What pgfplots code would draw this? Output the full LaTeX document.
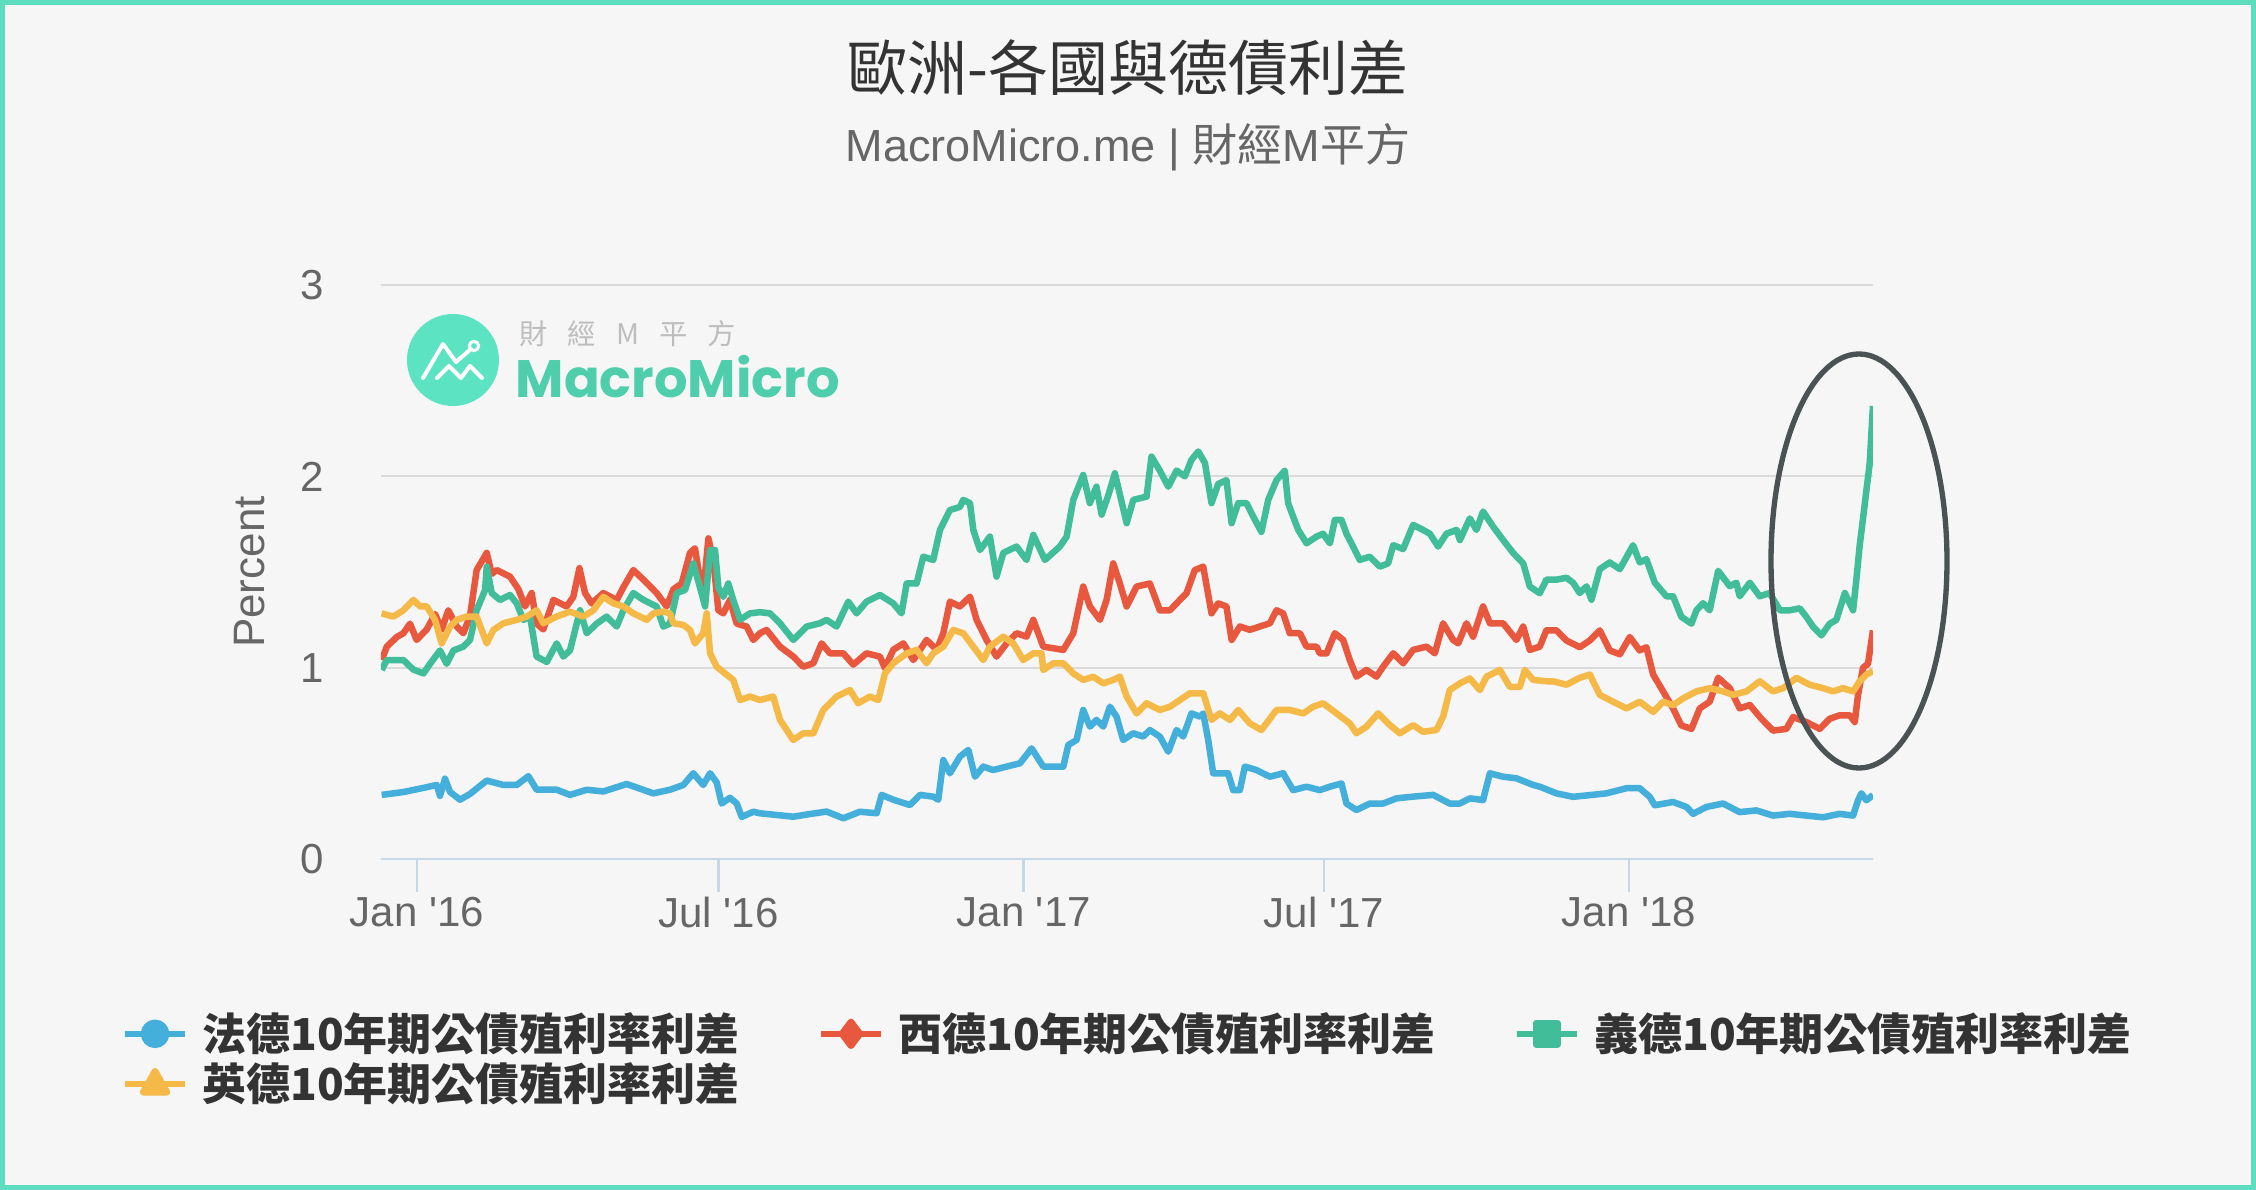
\documentclass[border=0pt]{standalone}
\usepackage{fontspec}
\setmainfont{Liberation Sans}
\newfontfamily\cjk{Noto Sans CJK TC}
\newfontfamily\pop{Poppins}
\usepackage{pgfplots}
\pgfplotsset{compat=1.18}
\pgfdeclarelayer{background}
\pgfsetlayers{background,main}
\definecolor{bg}{HTML}{F6F6F6}
\definecolor{frame}{HTML}{5EDDBE}
\definecolor{cB}{HTML}{43AFDA}
\definecolor{cR}{HTML}{E8583E}
\definecolor{cG}{HTML}{42BD99}
\definecolor{cY}{HTML}{F5B947}
\definecolor{gridc}{HTML}{DADADA}
\definecolor{axc}{HTML}{C8D7E6}
\definecolor{txt}{HTML}{333333}
\definecolor{txt2}{HTML}{666666}
\definecolor{logoc}{HTML}{5BE3C2}
\definecolor{logot}{HTML}{4ECEAB}
\definecolor{logog}{HTML}{BDBDBD}
\definecolor{ell}{HTML}{4A5254}
\begin{document}
\begin{tikzpicture}[x=0.3pt,y=0.3pt]
\begin{axis}[
  scale only axis, width=447.6pt, height=172.2pt,
  xmin=-21.7, xmax=878.3, ymin=0, ymax=3,
  axis x line*=bottom, axis y line*=left,
  x axis line style={draw=axc, line width=0.75pt, -},
  y axis line style={draw=none},
  xtick={0,182,366,547,731},
  xticklabels={Jan \textquotesingle 16, Jul \textquotesingle 16, Jan \textquotesingle 17, Jul \textquotesingle 17, Jan \textquotesingle 18},
  ytick={0,1,2,3},
  ymajorgrids, grid style={draw=gridc, line width=0.6pt},
  xtick style={draw=axc, line width=0.75pt},
  ytick style={draw=none},
  xtick align=outside, ytick align=inside,
  major tick length=10pt,
  tick label style={font=\fontsize{12.6}{15}\selectfont, text=txt2},
  /pgf/number format/assume math mode=true,
  yticklabel style={inner sep=0pt, xshift=-17pt},
  xticklabel style={inner sep=0pt, yshift=-1.3pt},
  ylabel={Percent},
  ylabel style={at={(axis description cs:-0.0878,0.5)}, anchor=center, font=\fontsize{13.2}{16}\selectfont, text=txt2},
  legend columns=3,
  legend cell align=left,
  legend style={at={(axis description cs:-0.174,-0.2545)}, anchor=north west,
    draw=none, fill=none, inner sep=0pt, row sep=-1.9pt,
    font=\cjk\bfseries\fontsize{13.2}{15}\selectfont, text=txt,
    /tikz/every even column/.append style={column sep=21.4pt},
    /tikz/every odd column/.append style={column sep=2.3pt}},
  every axis plot/.append style={line width=1.95pt, line join=round},
]
\coordinate (AXO) at (rel axis cs:0,0);
\addplot[cB, legend image code/.code={\draw[cB, line width=1.8pt] (0pt,0pt) -- (18pt,0pt); \fill[cB] (9pt,0pt) circle (3.3pt);}] coordinates {
(-21.3,0.335) (-8.2,0.35) (3,0.37) (11.9,0.387) (13.9,0.33) (16.9,0.42) (20,0.35) (26,0.31) (32,0.34) (42.1,0.41) (52.1,0.387) (60.2,0.387) (67.2,0.433) (72.2,0.362) (84.3,0.362) (92.3,0.335) (102.4,0.362) (112.4,0.353) (126.5,0.392) (142.6,0.343) (152.6,0.362) (160.7,0.387) (166.7,0.448) (172.7,0.387) (176.8,0.448) (180.8,0.40) (183.8,0.29) (188.8,0.32) (192.9,0.29) (195.9,0.22) (202.9,0.247) (206.9,0.239) (217,0.23) (227,0.221) (237,0.235) (247.1,0.248) (257.2,0.213) (267.2,0.247) (277.3,0.239) (280.3,0.335) (287.3,0.31) (297.4,0.282) (303.4,0.335) (311.4,0.326) (314.5,0.31) (317.5,0.517) (321.5,0.448) (327.5,0.535) (332.6,0.57) (336.6,0.43) (341.6,0.483) (347.6,0.465) (355.7,0.483) (363.7,0.50) (370.8,0.578) (377.8,0.483) (389.9,0.483) (392.9,0.596) (397.9,0.622) (401.9,0.779) (405.9,0.692) (409.9,0.727) (414,0.692) (418,0.796) (422,0.744) (426,0.622) (432.1,0.657) (438.1,0.64) (442.1,0.674) (448.1,0.64) (453.2,0.561) (458.2,0.674) (462.2,0.64) (467.2,0.761) (472.3,0.744) (474.3,0.761) (477.3,0.622) (480.3,0.448) (489.3,0.448) (492.4,0.36) (496.4,0.36) (499.4,0.483) (506.4,0.465) (514.5,0.43) (522.5,0.448) (528.5,0.36) (536.6,0.378) (544.6,0.36) (550.7,0.378) (557.7,0.395) (560.7,0.29) (566.7,0.256) (574.8,0.29) (582.8,0.29) (590.9,0.317) (600.9,0.326) (613,0.335) (623,0.29) (629.1,0.29) (635.1,0.317) (643.1,0.308) (647.2,0.448) (655.2,0.43) (663.2,0.422) (673.3,0.387) (677.3,0.378) (687.4,0.343) (697.4,0.325) (707.5,0.334) (717.5,0.343) (729.6,0.37) (737.6,0.37) (743.6,0.325) (746.7,0.281) (757.7,0.298) (765.8,0.272) (769.8,0.236) (777.8,0.272) (787.9,0.29) (797.9,0.245) (808,0.254) (818,0.227) (828.1,0.236) (838.1,0.227) (848.2,0.218) (858.2,0.236) (866.3,0.227) (869.3,0.307) (871.3,0.343) (874.3,0.307) (878.3,0.334)
};
\addlegendentry{法德10年期公債殖利率利差}
\addplot[cR, legend image code/.code={\draw[cR, line width=1.8pt] (0pt,0pt) -- (18pt,0pt); \fill[cR] (9pt,3.6pt) -- (11.7pt,0pt) -- (9pt,-3.6pt) -- (6.3pt,0pt) -- cycle;}] coordinates {
(-21.3,1.04) (-18.2,1.11) (-12.2,1.16) (-8.2,1.18) (-4.2,1.23) (-0.2,1.145) (5.9,1.20) (10.9,1.28) (14.9,1.20) (18.9,1.30) (24,1.215) (28,1.18) (32,1.27) (36,1.51) (42.1,1.60) (45.1,1.49) (48.1,1.51) (56.1,1.476) (61.2,1.41) (65.2,1.32) (69.2,1.39) (72.2,1.23) (76.2,1.20) (82.3,1.354) (90.3,1.32) (94.3,1.37) (98,1.52) (101.4,1.39) (105.4,1.336) (112.4,1.39) (120.5,1.354) (124.5,1.42) (130.5,1.51) (136.6,1.46) (144.6,1.39) (150.6,1.32) (154.7,1.41) (159.7,1.44) (164.7,1.60) (167.7,1.624) (170.7,1.46) (172.7,1.39) (175.8,1.676) (178.8,1.56) (181.8,1.30) (184.8,1.284) (188.8,1.354) (192.9,1.23) (198.9,1.215) (202.9,1.145) (206.9,1.18) (210.9,1.197) (219,1.11) (227,1.058) (233,1.005) (239.1,1.023) (244.1,1.127) (249.1,1.075) (257.2,1.075) (263.2,1.016) (271.2,1.075) (279.3,1.058) (282.3,0.997) (287.3,1.093) (293.4,1.127) (299.4,1.04) (307.4,1.145) (313.5,1.093) (317.5,1.18) (321.5,1.345) (327.5,1.32) (333.6,1.371) (337.6,1.25) (343.6,1.145) (349.6,1.058) (355.7,1.127) (361.7,1.18) (367.7,1.162) (371.8,1.25) (377.8,1.11) (389.9,1.093) (395.9,1.18) (401.9,1.424) (405.9,1.32) (412,1.25) (416,1.354) (420,1.545) (424,1.44) (428.1,1.32) (434.1,1.424) (442.1,1.44) (448.1,1.30) (454.2,1.30) (460.2,1.354) (464.2,1.389) (469.2,1.51) (474.3,1.528) (479.3,1.284) (483.3,1.336) (488.3,1.32) (491.4,1.145) (496.4,1.215) (502.4,1.198) (508.4,1.215) (514.5,1.232) (518.5,1.30) (522.5,1.284) (526.5,1.18) (532.6,1.18) (536.6,1.11) (542.6,1.11) (544.6,1.075) (548.7,1.075) (553.7,1.18) (558.7,1.145) (562.7,1.04) (566.7,0.953) (572.8,0.988) (578.8,0.953) (582.8,1.005) (588.9,1.075) (594.9,1.023) (600.9,1.093) (609,1.11) (614,1.075) (619,1.232) (625,1.145) (628.1,1.127) (633.1,1.232) (637.1,1.162) (643.1,1.32) (647.2,1.232) (655.2,1.232) (663.2,1.145) (667.3,1.215) (671.3,1.093) (677.3,1.11) (681.3,1.195) (687.4,1.195) (693.4,1.142) (701.4,1.107) (707.5,1.142) (713.5,1.195) (719.5,1.09) (725.6,1.07) (731.6,1.16) (737.6,1.09) (741.6,1.107) (745.7,0.964) (751.7,0.876) (757.7,0.787) (762.7,0.698) (768.8,0.68) (773.8,0.787) (779.8,0.822) (784.9,0.947) (791.9,0.893) (797.9,0.787) (804,0.805) (811,0.733) (818,0.671) (826.1,0.68) (830.1,0.742) (838.1,0.716) (846.2,0.68) (852.2,0.733) (858.2,0.751) (864.3,0.751) (867.3,0.716) (869.3,0.858) (872.3,1.0) (875.3,1.02) (878.3,1.195)
};
\addlegendentry{西德10年期公債殖利率利差}
\addplot[cG, legend image code/.code={\draw[cG, line width=1.8pt] (0pt,0pt) -- (18pt,0pt); \fill[cG] (5.8pt,-3.2pt) rectangle (12.2pt,3.2pt);}] coordinates {
(-21.3,0.988) (-18.2,1.04) (-8.2,1.04) (-2.2,0.99) (3.9,0.97) (7.9,1.02) (13.9,1.09) (17.9,1.02) (22,1.09) (28,1.11) (32,1.145) (36,1.30) (41.1,1.406) (42.1,1.528) (45.1,1.39) (50.1,1.354) (56.1,1.38) (60.2,1.336) (64.2,1.25) (68.2,1.267) (72.2,1.058) (78.3,1.03) (84.3,1.127) (88.3,1.058) (92.3,1.09) (98.4,1.30) (102.4,1.18) (108.4,1.23) (114.4,1.267) (120.5,1.215) (124.5,1.30) (130.5,1.39) (136.6,1.354) (144.6,1.32) (148.6,1.215) (152.6,1.23) (156.7,1.39) (161.7,1.406) (166.7,1.545) (170.7,1.42) (173.8,1.32) (176.8,1.615) (179.8,1.615) (181.8,1.42) (184.8,1.37) (187.8,1.44) (190.8,1.354) (194.9,1.25) (200.9,1.284) (206.9,1.29) (212.9,1.284) (219,1.232) (227,1.145) (235.1,1.215) (243.1,1.232) (247.1,1.25) (253.1,1.215) (260.2,1.345) (265.2,1.284) (271.2,1.345) (279.3,1.38) (287.3,1.336) (292.3,1.284) (295.4,1.44) (301.4,1.44) (305.4,1.58) (311.4,1.563) (315.5,1.72) (321.5,1.824) (327.5,1.84) (329.5,1.877) (333.6,1.86) (335.6,1.72) (339.6,1.615) (345.6,1.685) (349.6,1.476) (353.7,1.60) (361.7,1.633) (367.7,1.563) (371.8,1.694) (378.8,1.563) (387.8,1.633) (391.9,1.685) (395.9,1.877) (401.9,2.007) (405.9,1.86) (409.9,1.946) (413,1.80) (417,1.90) (421,2.016) (428.1,1.755) (432.1,1.877) (440.1,1.894) (443.1,2.103) (448.1,2.03) (453.2,1.946) (458.2,2.03) (463.2,2.0) (467.2,2.086) (471.3,2.13) (475.3,2.07) (479.3,1.86) (483.3,1.96) (488.3,1.98) (491.4,1.755) (495.4,1.86) (500.4,1.86) (504.4,1.79) (509.4,1.71) (513.5,1.877) (518.5,1.98) (523.5,2.03) (525.5,1.86) (528.5,1.79) (531.6,1.72) (536.6,1.65) (542.6,1.685) (546.6,1.70) (550.7,1.65) (553.7,1.772) (557.7,1.772) (560.7,1.70) (564.7,1.633) (568.7,1.563) (574.8,1.58) (580.8,1.528) (585.8,1.545) (588.9,1.64) (594.9,1.62) (600.9,1.746) (606.9,1.72) (611,1.70) (616,1.633) (621,1.70) (627.1,1.72) (629.1,1.667) (635.1,1.78) (639.1,1.72) (643.1,1.816) (649.2,1.737) (655.2,1.667) (661.2,1.60) (667.3,1.545) (671.3,1.424) (677.3,1.389) (681.3,1.46) (687.4,1.46) (693.4,1.47) (697.4,1.444) (701.4,1.39) (705.5,1.425) (708.5,1.355) (713.5,1.515) (719.5,1.55) (725.6,1.515) (733.6,1.64) (737.6,1.55) (741.6,1.567) (746.7,1.444) (753.7,1.373) (757.7,1.373) (762.7,1.266) (768.8,1.23) (771.8,1.30) (775.8,1.337) (779.8,1.30) (784.9,1.506) (791.9,1.426) (795.9,1.444) (797.9,1.373) (804,1.444) (810,1.373) (816,1.39) (822.1,1.30) (828.1,1.30) (834.1,1.31) (838.1,1.266) (842.2,1.213) (847.2,1.169) (852.2,1.23) (856.2,1.25) (861.3,1.39) (866.3,1.30) (868.3,1.462) (870.3,1.64) (872.3,1.78) (874.3,1.924) (876.3,2.066) (878.3,2.368)
};
\addlegendentry{義德10年期公債殖利率利差}
\addplot[cY, legend image code/.code={\draw[cY, line width=1.8pt] (0pt,0pt) -- (18pt,0pt); \fill[cY] (9pt,3.8pt) -- (12.6pt,-2.6pt) -- (5.4pt,-2.6pt) -- cycle;}] coordinates {
(-21.3,1.284) (-14.2,1.267) (-8.2,1.30) (-2.2,1.354) (1.9,1.32) (5.9,1.32) (10.9,1.25) (14.9,1.127) (20,1.215) (24,1.25) (30,1.267) (36,1.267) (42.1,1.127) (46.1,1.197) (52.1,1.232) (60.2,1.25) (66.2,1.267) (72.2,1.30) (76.2,1.232) (84.3,1.267) (92.3,1.293) (100.4,1.267) (106.4,1.30) (112.4,1.37) (118.5,1.336) (124.5,1.32) (130.5,1.284) (138.6,1.25) (142.6,1.284) (148.6,1.293) (152.6,1.284) (154.7,1.232) (160.7,1.223) (164.7,1.197) (167.7,1.127) (172.7,1.18) (174.8,1.284) (176.8,1.075) (180.8,1.005) (185.8,0.97) (190.8,0.936) (194.9,0.831) (200.9,0.849) (206.9,0.831) (214.9,0.849) (219,0.727) (227,0.622) (233,0.657) (239.1,0.657) (245.1,0.779) (253.1,0.849) (261.2,0.883) (266.2,0.814) (273.2,0.849) (278.3,0.831) (282.3,0.97) (287.3,1.023) (295.4,1.075) (301.4,1.093) (307.4,1.023) (311.4,1.075) (317.5,1.11) (323.5,1.197) (329.5,1.18) (335.6,1.11) (341.6,1.04) (345.6,1.11) (353.7,1.162) (359.7,1.127) (365.7,1.04) (371.8,1.075) (376.8,1.075) (377.8,0.988) (383.8,1.023) (389.9,1.023) (395.9,0.97) (401.9,0.936) (407.9,0.953) (414,0.918) (420,0.936) (424,0.953) (428.1,0.849) (434.1,0.761) (440.1,0.814) (448.1,0.779) (454.2,0.796) (460.2,0.831) (466.2,0.866) (474.3,0.866) (479.3,0.727) (484.3,0.761) (490.4,0.727) (495.4,0.779) (502.4,0.709) (509.4,0.674) (518.5,0.779) (526.5,0.779) (534.6,0.761) (540.6,0.796) (546.6,0.814) (554.7,0.761) (562.7,0.709) (566.7,0.657) (572.8,0.692) (579.8,0.761) (586.9,0.70) (592.9,0.657) (600.9,0.70) (606.9,0.665) (615,0.674) (619,0.744) (623,0.883) (629.1,0.918) (635.1,0.944) (641.1,0.883) (645.2,0.953) (653.2,0.988) (659.2,0.90) (665.3,0.90) (668.3,0.988) (673.3,0.936) (681.3,0.929) (685.3,0.929) (693.4,0.911) (701.4,0.947) (707.5,0.964) (713.5,0.858) (721.5,0.822) (729.6,0.787) (737.6,0.822) (745.7,0.769) (751.7,0.822) (757.7,0.804) (763.8,0.84) (771.8,0.876) (779.8,0.893) (787.9,0.876) (793.9,0.858) (802,0.876) (810,0.929) (818,0.876) (824.1,0.893) (832.1,0.947) (840.1,0.911) (848.2,0.893) (854.2,0.876) (860.2,0.893) (866.3,0.876) (870.3,0.929) (874.3,0.964) (878.3,0.982)
};
\addlegendentry{英德10年期公債殖利率利差}
\end{axis}
\begin{scope}[shift={(AXO)}]
\begin{scope}[shift={(-381,-331)}]
\begin{pgfonlayer}{background}
\fill[bg] (0,0) rectangle (2256,1190);
\end{pgfonlayer}
\draw[frame, line width=1.5pt] (2.5,2.5) rectangle (2253.5,1187.5);
\node[txt, font=\cjk\fontsize{18}{21}\selectfont] at (1128,1122) {歐洲-各國與德債利差};
\node[txt2, font=\fontsize{13.5}{16}\selectfont] at (1128,1043) {MacroMicro.me | {\cjk 財經}M{\cjk 平方}};
\fill[logoc] (453,830) circle (13.8pt);
\draw[white, line width=1.2pt, line join=round, line cap=round] (423,812) -- (443,846) -- (456,828) -- (471,841);
\draw[white, line width=1.2pt, line join=round, line cap=round] (437,812) -- (449,824) -- (461,812) -- (470,824) -- (482,812);
\draw[white, line width=0.9pt] (474,844) circle (1.4pt);
\node[logog, font=\cjk\fontsize{8.5}{10}\selectfont, anchor=west, inner sep=0pt] at (519,856) {財\hspace{6pt}經\hspace{6pt}M\hspace{6pt}平\hspace{6pt}方};
\node[logot, font=\pop\bfseries\fontsize{15.8}{19}\selectfont, anchor=west, inner sep=0pt] at (515,813) {MacroMicro};
\draw[ell, line width=1.6pt] (1859,629) ellipse [x radius=26.4pt, y radius=62.1pt];
\pgfresetboundingbox
\path[use as bounding box] (0,0) rectangle (2256,1190);
\end{scope}
\end{scope}
\end{tikzpicture}
\end{document}
